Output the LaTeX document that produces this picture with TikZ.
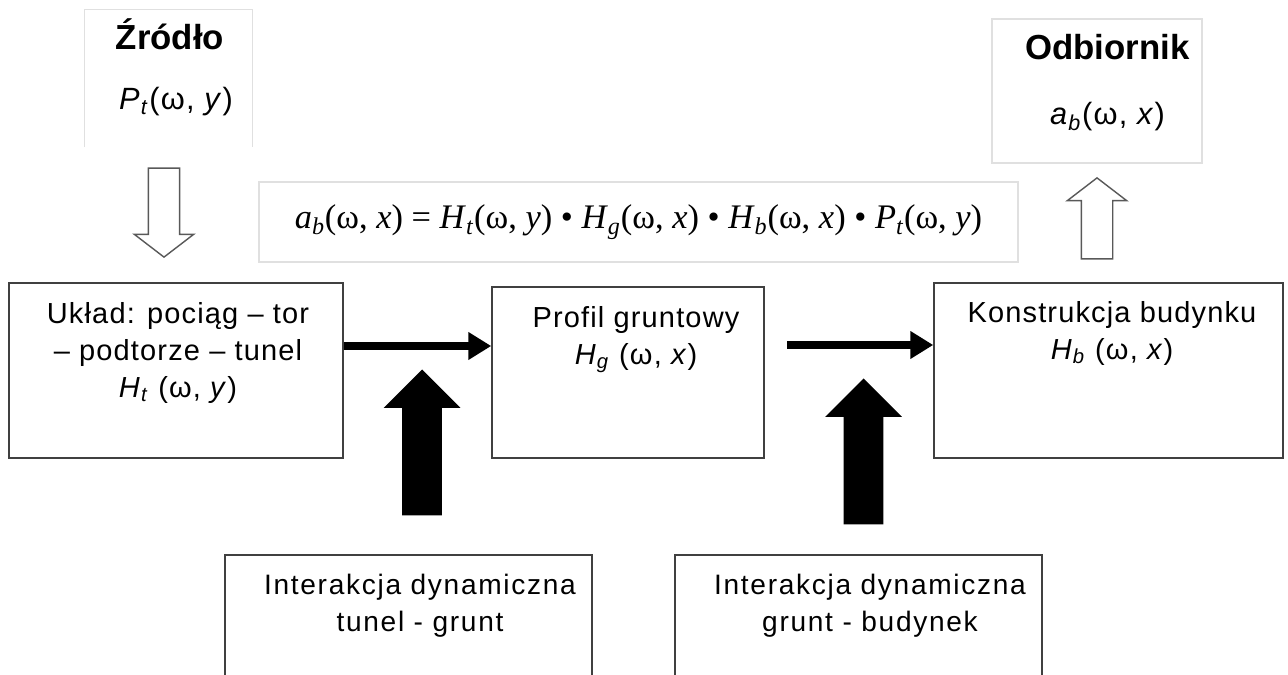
\documentclass[tikz,border=0pt]{standalone}
\usepackage{fontspec}
\setmainfont{Liberation Sans}
\newfontfamily\wzorf{Liberation Serif}
\usetikzlibrary{shapes.arrows, arrows.meta, positioning, calc}

\begin{document}
\begin{tikzpicture}[
			x=0.02cm, y=-0.02cm,
			blok/.style={rectangle, draw=black!75, line width=0.9pt, inner sep=0pt},
			ramka/.style={draw=black!12, line width=0.9pt},
			tytul/.style={inner sep=0pt, anchor=base, font=\fontsize{19.8}{22}\selectfont\bfseries},
			wielk/.style={inner sep=0pt, anchor=base, font=\fontsize{17.5}{21}\selectfont\addfontfeature{LetterSpace=4}},
			opis/.style={align=center, inner sep=0pt, anchor=north, font=\fontsize{16.5}{21}\selectfont\addfontfeature{LetterSpace=4}},
			interakcja/.style={align=center, inner sep=0pt, anchor=north, font=\fontsize{16}{21}\selectfont\addfontfeature{LetterSpace=6}},
			czarna/.style={single arrow, fill=black, inner sep=0.39cm, minimum width=1.52cm, minimum height=2.92cm, single arrow head extend=0.37cm, single arrow tip angle=90, shape border rotate=90, anchor=tip},
			pusta/.style={single arrow, draw=black!65, fill=white, line width=0.8pt, inner sep=0.3cm, minimum width=1.16cm, single arrow head extend=0.28cm, single arrow tip angle=105, anchor=tip},
			strzalka/.style={-{Triangle[length=13pt, width=15pt]}, line width=4pt}
			]
			
			\useasboundingbox (0,0) rectangle (1288,675);
			\clip (0,0) rectangle (1288,675);
			
			% zrodlo i odbiornik
			\node[minimum width=3.34cm, minimum height=2.74cm] (zr) at (168.5,78.5) {};
			\draw[ramka] (zr.south west) -- (zr.north west) -- (zr.north east) -- (zr.south east);
			\node[tytul] (zr-t) at (170,50) {Źródło};
			\node[wielk] (zr-p) at (176,110) {\textit{P}\textsubscript{\textit{t}}(ω, \textit{y})};
			
			\node[rectangle, ramka, minimum width=4.2cm, minimum height=2.88cm] (odb) at (1097,91) {};
			\node[tytul] (odb-t) at (1107.5,60) {Odbiornik};
			\node[wielk] (odb-a) at (1107.5,125) {\textit{a}\textsubscript{\textit{b}}(ω, \textit{x})};
			
			% wzor
			\node[rectangle, ramka, minimum width=15.18cm, minimum height=1.6cm, font=\wzorf\fontsize{19.6}{22}\selectfont] (wzor) at (638.5,222)
				{\textit{a}\textsubscript{\textit{b}}(ω, \textit{x}) = \textit{H}\textsubscript{\textit{t}}(ω, \textit{y}) • \textit{H}\textsubscript{\textit{g}}(ω, \textit{x}) • \textit{H}\textsubscript{\textit{b}}(ω, \textit{x}) • \textit{P}\textsubscript{\textit{t}}(ω, \textit{y})};
			
			% bloki glowne
			\node[blok, minimum width=6.68cm, minimum height=3.5cm] (ukl) at (176,370.5) {};
			\node[blok, minimum width=5.44cm, minimum height=3.42cm] (prof) at (628,372.5) {};
			\node[blok, minimum width=6.98cm, minimum height=3.5cm] (konst) at (1108.5,370.5) {};
			
			\node[opis] (ukl-t) at (178,302) {Układ: pociąg – tor\\– podtorze – tunel\\\textit{H}\textsubscript{\textit{t}} (ω, \textit{y})};
			\node[opis] (prof-t) at (636,306) {Profil gruntowy\\\textit{H}\textsubscript{\textit{g}} (ω, \textit{x})};
			\node[opis] (konst-t) at (1112,301) {Konstrukcja budynku\\\textit{H}\textsubscript{\textit{b}} (ω, \textit{x})};
			
			% interakcje
			\node[blok, minimum width=7.34cm, minimum height=3.3cm] (int1) at (408.5,637.5) {};
			\node[blok, minimum width=7.34cm, minimum height=3.3cm] (int2) at (858.5,637.5) {};
			\node[interakcja] (int1-t) at (420,574) {Interakcja dynamiczna\\tunel - grunt};
			\node[interakcja] (int2-t) at (870,574) {Interakcja dynamiczna\\grunt - budynek};
			
			% strzalki
			\coordinate (p2) at (787,345);
			\draw[strzalka] (ukl.east |- 0,346) -- (prof.west |- 0,346);
			\draw[strzalka] (p2) -- (konst.west |- p2);
			
			\node[czarna] (s1) at (422,369) {};
			\node[czarna] (s2) at (863.5,378) {};
			\node[pusta, minimum height=1.78cm, shape border rotate=270] (s3) at (164,258) {};
			\node[pusta, minimum height=1.62cm, shape border rotate=90] (s4) at (1097,177) {};
		\end{tikzpicture}
\end{document}
